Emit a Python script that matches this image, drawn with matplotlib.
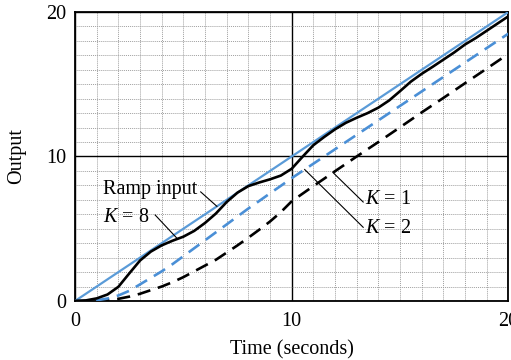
import matplotlib
matplotlib.use("Agg")
import matplotlib.pyplot as plt

plt.rcParams['font.family'] = ['Liberation Serif', 'DejaVu Serif']
plt.rcParams['mathtext.fontset'] = 'custom'
plt.rcParams['mathtext.rm'] = 'Liberation Serif'
plt.rcParams['mathtext.it'] = 'Liberation Serif:italic'

# Time samples (seconds)
t_k8 = [0, 0.5, 1.0, 1.5, 2.0, 2.5, 3.0, 3.5, 4.0, 4.5, 5.0, 5.5, 6.0, 6.5, 7.0,
        7.5, 8.0, 8.5, 9.0, 9.5, 10.0, 10.5, 11.0, 11.5, 12.0, 12.5, 13.0, 13.5,
        14.0, 14.5, 15.0, 15.5, 16.0, 16.5, 17.0, 17.5, 18.0, 18.5, 19.0, 19.5, 20.0]
y_k8 = [0, 0.04, 0.18, 0.45, 0.98, 1.9, 2.8, 3.42, 3.85, 4.17, 4.45, 4.85, 5.4, 6.05, 6.85,
        7.5, 7.95, 8.2, 8.42, 8.68, 9.15, 9.98, 10.78, 11.35, 11.88, 12.33, 12.68, 13.0,
        13.38, 13.88, 14.52, 15.18, 15.72, 16.2, 16.7, 17.2, 17.75, 18.2, 18.7, 19.2, 19.7]

t_ramp = [0, 20]
y_ramp = [0, 20]

t_k1 = [0, 0.5, 1, 1.5, 2, 2.5, 3, 3.5, 4, 4.5, 5, 5.5, 6, 6.5, 7, 7.5, 8, 8.5, 9, 9.5,
        10, 11, 12, 13, 14, 15, 16, 17, 18, 19, 20]
y_k1 = [0, 0.0, 0.02, 0.06, 0.15, 0.3, 0.5, 0.75, 1.0, 1.3, 1.65, 2.05, 2.45, 2.85, 3.35,
        3.85, 4.38, 4.93, 5.5, 6.15, 6.9, 7.95, 8.98, 10.0, 11.0, 12.02, 13.05, 14.05,
        15.07, 16.08, 17.1]

t_k2 = [0, 0.5, 1, 1.5, 2, 2.5, 3, 3.5, 4, 4.5, 5, 5.5, 6, 6.5, 7, 7.5, 8, 8.5, 9, 9.5,
        10, 11, 12, 13, 14, 15, 16, 17, 18, 19, 20]
y_k2 = [0, 0.01, 0.05, 0.17, 0.38, 0.7, 1.15, 1.6, 2.05, 2.55, 3.1, 3.65, 4.2, 4.75, 5.3,
        5.85, 6.4, 6.92, 7.45, 7.97, 8.5, 9.5, 10.5, 11.5, 12.5, 13.5, 14.5, 15.5, 16.5,
        17.5, 18.5]

ticks = [0, 10, 20]

fig = plt.figure(figsize=(5.11, 3.6), dpi=100)
ax = fig.add_axes([0.1468, 0.1639, 0.848, 0.8028])

fs = 14.5
ax.set_xlim(0, 20)
ax.set_ylim(0, 20)
ax.set_xticks(ticks)
ax.set_yticks(ticks)
ax.set_xticks(range(0, 21), minor=True)
ax.set_yticks(range(0, 21), minor=True)
ax.grid(which='minor', color='#a0a0a0', linestyle=(0, (1, 1)), linewidth=0.7)
ax.grid(which='major', color='black', linestyle='-', linewidth=1.0)
ax.tick_params(which='both', length=0)
ax.tick_params(axis='x', pad=8, labelsize=fs)
ax.tick_params(axis='y', pad=6, labelsize=fs)
for s in ax.spines.values():
    s.set_linewidth(1.3)
    s.set_color('black')

blue = '#5a9bd8'
ax.plot(t_ramp, y_ramp, color=blue, lw=1.6, zorder=3)
ax.plot(t_k1, y_k1, color='black', lw=1.9, dashes=(5, 3), zorder=3)
ax.plot(t_k2, y_k2, color='#4a8fd6', lw=1.9, dashes=(5, 3), zorder=3)
ax.plot(t_k8, y_k8, color='black', lw=1.9, zorder=4)

ax.set_xlabel('Time (seconds)', fontsize=fs)
ax.set_ylabel('Output', fontsize=fs)
ax.xaxis.set_label_coords(0.5, -0.135)
ax.yaxis.set_label_coords(-0.112, 0.5)

ax.text(1.3, 7.7, 'Ramp input', fontsize=fs, va='center', ha='left', zorder=6)
ax.text(1.3, 5.8, '$K$ = 8', fontsize=fs, va='center', ha='left', zorder=6)
ax.text(13.4, 7.0, '$K$ = 1', fontsize=fs, va='center', ha='left', zorder=6)
ax.text(13.4, 5.05, '$K$ = 2', fontsize=fs, va='center', ha='left', zorder=6)

lw_l = 0.8
ax.plot([5.8, 6.55], [7.55, 6.55], color='black', lw=lw_l, zorder=5)
ax.plot([3.7, 4.7], [5.95, 4.35], color='black', lw=lw_l, zorder=5)
ax.plot([13.3, 11.9], [6.85, 8.9], color='black', lw=lw_l, zorder=5)
ax.plot([13.3, 10.6], [5.1, 9.1], color='black', lw=lw_l, zorder=5)

fig.savefig('out.png', dpi=100)
